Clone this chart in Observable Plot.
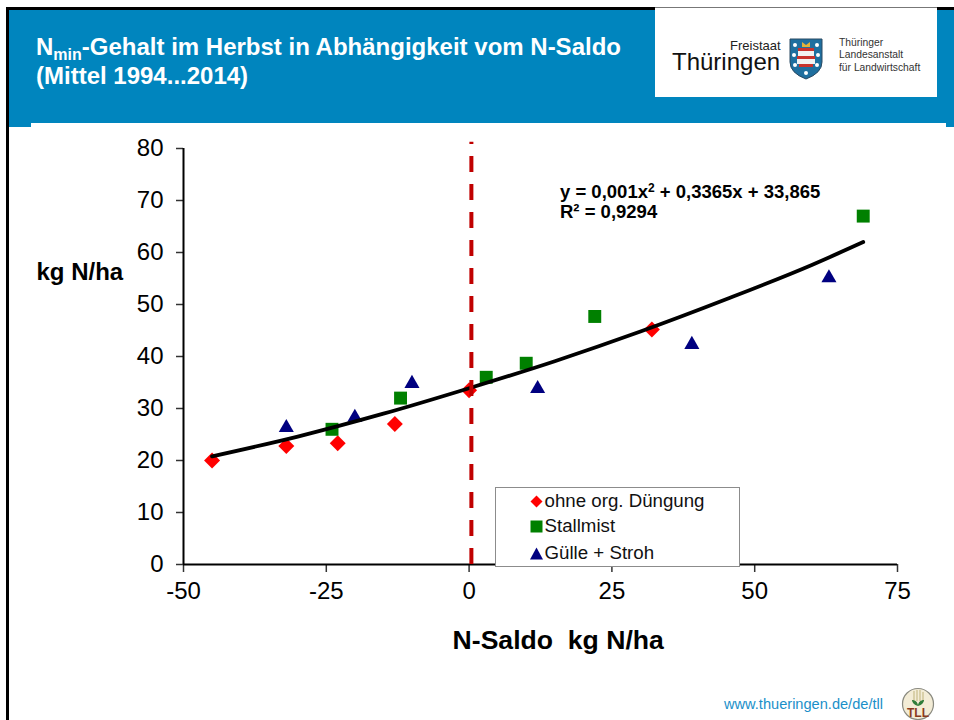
<!DOCTYPE html>
<html lang="de">
<head>
<meta charset="utf-8">
<script src="https://cdn.jsdelivr.net/npm/d3@7"></script>
<script src="https://cdn.jsdelivr.net/npm/@observablehq/plot@0.6"></script>
<style>
html,body{margin:0;padding:0;background:#fff;overflow:hidden}
#page{position:relative;width:954px;height:720px;overflow:hidden;font-family:"Liberation Sans",Arial,sans-serif;background:#fff}
#page>*{position:absolute}
#chart{left:0;top:0}
.blue{background:#0085be}
.title{left:36px;top:32px;color:#fff;font-weight:700;font-size:24px;line-height:29px;white-space:nowrap}
.title sub{font-size:16px;line-height:0;vertical-align:-5px}
.logobox{left:655px;top:8px;width:282px;height:89px;background:#fff}
.legend{left:495px;top:487px;width:243px;height:78px;background:#fff;border:1.5px solid #8c8c8c;font-size:18.7px;color:#111}
.legend div{position:absolute;left:33.5px;white-space:nowrap;line-height:20px}
.legend svg{vertical-align:-1px;margin-right:2px}
.url{left:724px;top:696px;color:#1a8fc9;font-size:14.6px;white-space:nowrap}
.eq{left:560px;top:182px;font-weight:700;font-size:18.5px;line-height:20px;color:#000;white-space:nowrap}
.eq sup{font-size:12px;line-height:0;vertical-align:6px}
</style>
</head>
<body>
<div id="page">
  <div style="left:6px;top:7px;width:948px;height:3px;background:#000"></div>
  <div class="blue" style="left:9px;top:10px;width:945px;height:113px"></div>
  <div class="blue" style="left:9px;top:123px;width:22px;height:4px"></div>
  <div class="blue" style="left:946px;top:123px;width:8px;height:4px"></div>
  <div style="left:6px;top:7px;width:3px;height:713px;background:#000"></div>
  <div class="logobox"></div>
  <div style="left:655px;top:7px;width:282px;height:1px;background:#777"></div>
  <div class="title">N<sub>min</sub>-Gehalt im Herbst in Abhängigkeit vom N-Saldo<br>(Mittel 1994...2014)</div>

  <div style="left:730px;top:40px;font-size:13px;line-height:12px;height:12px;color:#222;white-space:nowrap">Freistaat</div>
  <div style="left:672px;top:52px;font-size:24px;line-height:20px;height:20px;color:#111;white-space:nowrap">Thüringen</div>
  <div style="left:839px;top:37px;font-size:10.3px;line-height:12.4px;color:#333;white-space:nowrap">Thüringer<br>Landesanstalt<br>für Landwirtschaft</div>
  <svg style="left:788px;top:38px" width="36" height="42" viewBox="0 0 36 42">
    <path d="M2 1H34V24Q34 35 18 41Q2 35 2 24Z" fill="#1f6f9f" stroke="#2b4a63"/>
    <g fill="#fff"><circle cx="7" cy="7" r="2"/><circle cx="29" cy="7" r="2"/><circle cx="6" cy="17" r="2"/><circle cx="30" cy="17" r="2"/><circle cx="7" cy="27" r="2"/><circle cx="29" cy="27" r="2"/><circle cx="18" cy="35" r="2"/></g>
    <path d="M10 10H26V13H10ZM9 18H27V21H9ZM11 26H25V29H11Z" fill="#c8332d"/>
    <path d="M10 13H26V18H10ZM9 21H27V26H9Z" fill="#f2f2f2"/>
    <path d="M14 4L18 7L22 4V9H14Z" fill="#e2b23a"/>
  </svg>

  <div id="chart"></div>

  <div class="eq">y = 0,001x<sup>2</sup> + 0,3365x + 33,865<br>R² = 0,9294</div>

  <div class="legend">
    <div style="top:3px"><svg width="13" height="13" viewBox="-6.5 -6.5 13 13"><path d="M0-6 6 0 0 6-6 0Z" fill="#ff0000"/></svg>ohne org. Düngung</div>
    <div style="top:28px"><svg width="13" height="13" viewBox="-6.5 -6.5 13 13"><path d="M-6-6H6V6H-6Z" fill="#008000"/></svg>Stallmist</div>
    <div style="top:55px"><svg width="13" height="13" viewBox="-6.5 -6.5 13 13"><path d="M0-6 6.5 6H-6.5Z" fill="#000080"/></svg>Gülle + Stroh</div>
  </div>

  <div class="url">www.thueringen.de/de/tll</div>
  <svg style="left:901px;top:687px" width="34" height="34" viewBox="0 0 34 34">
    <circle cx="17" cy="17" r="15.5" fill="#f3ecd6" stroke="#8a8a80" stroke-width="1.2"/>
    <g stroke="#c9bd8a" stroke-width="1.2" fill="none"><path d="M13 4V14M16 3V14M19 3V14M22 5V14"/></g>
    <path d="M17 19C13 18 11 15 11 13C14 13 17 15 17 19C17 15 20 13 23 13C23 15 21 18 17 19Z" fill="#2f7d3a"/>
    <text x="17" y="29.5" text-anchor="middle" font-size="12" font-weight="700" fill="#8a3a1e" font-family="Liberation Sans">TLL</text>
  </svg>
</div>
<script>
const ohneX = [-45, -32, -23, -13, 0, 32];
const ohneY = [20, 22.8, 23.3, 27, 33.5, 45.2];
const mistX = [-24, -12, 3, 10, 22, 69];
const mistY = [26, 32, 36, 38.7, 47.7, 67];
const gulleX = [-32, -20, -10, 12, 39, 63];
const gulleY = [26.3, 28.3, 34.8, 33.8, 42.3, 55.1];
const trendX = [-45, -30, -15, 0, 15, 30, 45, 60, 69];
const trendY = [20.8, 24.6, 29.0, 33.9, 39.1, 44.8, 51.0, 57.6, 62.0];
const xTicks = [-50, -25, 0, 25, 50, 75];
const yTicks = [0, 10, 20, 30, 40, 50, 60, 70, 80];
const xTitle = "N-Saldo  kg N/ha";
const yTitle = "kg N/ha";

const idx = a => a.map((_, i) => i);

const plot = Plot.plot({
  width: 954,
  height: 720,
  marginLeft: 183,
  marginRight: 57,
  marginTop: 148,
  marginBottom: 156,
  style: {background: "transparent", fontFamily: "'Liberation Sans', Arial, sans-serif", color: "#000"},
  x: {domain: [-50, 75]},
  y: {domain: [0, 80]},
  marks: [
    Plot.axisX({ticks: xTicks, tickSize: 8, tickPadding: 9, tickFormat: d => String(d), fontSize: 24, label: null, stroke: "#333", strokeWidth: 1.5}),
    Plot.axisY({ticks: yTicks, tickSize: 7, tickPadding: 13, tickFormat: d => String(d), fontSize: 24, label: null, stroke: "#333", strokeWidth: 1.5}),
    Plot.ruleY([0], {stroke: "#000", strokeWidth: 2}),
    Plot.ruleX([-50], {stroke: "#000", strokeWidth: 2}),
    Plot.dot(idx(ohneX), {x: i => ohneX[i], y: i => ohneY[i], symbol: "diamond2", r: 7.2, fill: "#ff0000", stroke: "none"}),
    Plot.dot(idx(mistX), {x: i => mistX[i], y: i => mistY[i], symbol: "square", r: 7.3, fill: "#008000", stroke: "none"}),
    Plot.dot(idx(gulleX), {x: i => gulleX[i], y: i => gulleY[i], symbol: "triangle", r: 5.6, fill: "#000080", stroke: "none"}),
    Plot.line(idx(trendX), {x: i => trendX[i], y: i => trendY[i], curve: "monotone-x", stroke: "#000", strokeWidth: 3.8, strokeLinecap: "round"}),
    Plot.ruleX([0.4], {y1: 0, y2: 81.2, stroke: "#c00000", strokeWidth: 4, strokeDasharray: "16 12"}),
    Plot.text([yTitle], {frameAnchor: "left", y: [56.2], text: d => d, dx: -147, textAnchor: "start", fontSize: 24, fontWeight: 700, fill: "#000"}),
    Plot.text([xTitle], {frameAnchor: "bottom", x: [15.6], text: d => d, dy: 84, textAnchor: "middle", fontSize: 26.6, fontWeight: 700, fill: "#000"})
  ]
});
document.getElementById("chart").appendChild(plot);
</script>
</body>
</html>
